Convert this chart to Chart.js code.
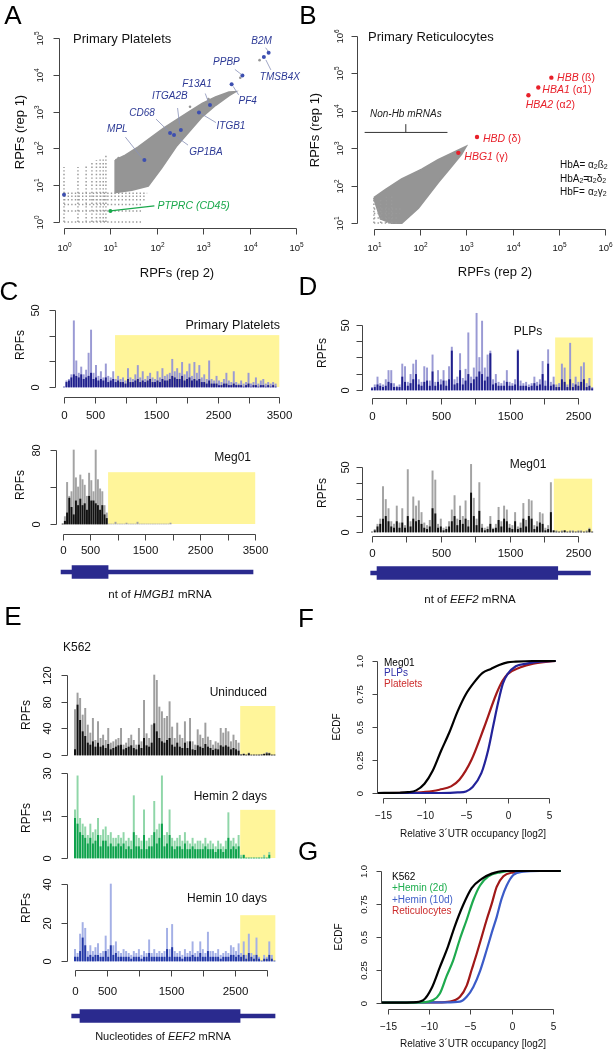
<!DOCTYPE html>
<html>
<head>
<meta charset="utf-8">
<title>Ribosome profiling panels</title>
<script src="https://cdn.jsdelivr.net/npm/chart.js@4.4.1/dist/chart.umd.min.js"></script>
<style>
html, body { margin: 0; background: #fff; }
#page { position: relative; width: 614px; height: 1050px; overflow: hidden; }
#page canvas { position: absolute; left: 0; top: 0; }
</style>
</head>
<body>
<div id="page"></div>
<script>
// ---------------- values ----------------
const BIN = 40; // nt (axis units) per profile bin

// A: primary platelets, RPFs rep 2 (x) vs rep 1 (y)
const plateletCloud = [[12.8,48],[21,65],[40,108],[77,200],[146,360],[270,600],[510,1000],[955,1650],[1850,2480],[3600,3350],[4800,3400],[3600,2750],[1850,1500],[955,740],[510,300],[270,120],[125,29],[65,9.6],[29,7.4],[12.8,6.4]];
const plateletColumns = [[1,31],[2,31],[3,34],[4,44],[5,48],[6,53],[7,57],[8,66]];
const plateletRows = [[1,47],[2,47],[3,50],[4,55],[5,60],[6,62]];
const plateletStray = [[16400,25000],[6300,8300],[15,55],[33,78],[520,1350],[1300,2200]];
const plateletGenes = ['B2M','TMSB4X','PPBP','PF4','F13A1','ITGB1','ITGA2B','CD68','GP1BA','MPL',''];
const plateletGeneRep2 = [25700,20300,7000,4100,1400,810,330,193,235,54,1];
const plateletGeneRep1 = [39800,30600,9600,5500,1500,940,316,260,230,48,5.5];
const ptprc = [10, 2];

// B: primary reticulocytes
const reticCloud = [[10,47],[18,78],[40,150],[109,270],[245,490],[550,790],[970,1100],[780,690],[470,320],[245,122],[91,25],[40,10],[24,10],[14,13]];
const reticColumns = [[10,46],[14,46],[18.6,50],[24.3,55]];
const reticRows = [[10,33],[13.6,33],[17.9,36],[23.7,40]];
const hbGenes = ['HBB','HBA1','HBA2','HBD','HBG1'];
const hbChains = [' (ß)',' (α1)',' (α2)',' (δ)',' (γ)'];
const hbRep2 = [69000,36000,22000,1700,670];
const hbRep1 = [77000,42000,26000,2000,750];
const nonHbSpan = [6.3, 390];
const nonHbTick = [49, 2640, 4400];

// C: HMGB1 profiles (bins of 40 nt)
const hmgb1PlateletLight = [0,4,5,8,43,17,9,13,8,11,22,37,9,14,7,10,6,15,7,6,10,5,7,5,6,4,12,6,5,8,14,6,10,5,7,9,6,5,10,6,12,7,8,9,18,10,12,9,16,8,10,15,7,16,9,14,6,8,5,17,5,4,7,4,3,5,9,4,3,10,3,2,4,2,3,9,2,3,6,2,4,5,2,3,2,3,2];
const hmgb1PlateletDark = [0,3,4,6,8,7,6,8,5,6,7,9,5,6,4,5,4,6,3,4,5,3,4,3,3,2,5,3,3,4,5,3,4,3,4,5,3,3,4,3,5,4,4,5,7,6,5,5,7,4,5,6,4,5,4,5,3,3,2,4,2,2,2,1,1,2,2,1,1,2,1,1,1,0,1,2,0,1,1,0,1,1,0,1,0,1,0];
const hmgb1MegLight = [0,8,45,30,35,80,50,40,53,48,42,30,55,47,35,80,48,38,35,20,12,0,0,0,2,0,0,0,0,1,0,0,0,0,2,0,0,0,0,0,0,0,0,0,0,0,0,0,0,1];
const hmgb1MegDark = [0,3,12,28,18,10,25,20,27,20,22,15,30,25,25,22,20,15,20,10,6];
const hmgb1Mrna = [-30, 3460];
const hmgb1Cds = [170, 825];
const hmgb1UtrPlatelet = [830, 3500, 33.7];
const hmgb1UtrMeg = [825, 3500, 56];

// D: EEF2 profiles, in the units of the drawn axis
const eef2PlpLight = [2,4,10,5,4,8,15,15,5,3,4,20,18,6,12,20,23,8,6,18,17,7,27,6,15,8,15,7,18,33,8,10,28,9,16,44,10,17,59,25,53,17,27,30,8,12,6,5,7,15,6,5,8,31,7,5,6,4,5,10,6,8,22,7,31,6,10,4,5,20,17,4,36,5,10,6,18,21,5,9,2];
const eef2PlpDark = [1,2,4,3,2,3,6,5,2,2,2,10,6,3,5,8,12,4,3,6,7,3,14,3,6,4,7,3,8,30,4,5,15,4,7,12,5,8,10,14,12,7,10,28,4,5,3,3,3,6,3,3,4,30,3,3,3,2,3,5,3,4,12,3,20,3,4,2,2,8,6,2,8,2,4,3,6,8,2,3,1];
const eef2MegLight = [0,2,6,10,35,25,18,8,6,20,7,18,5,48,8,27,20,24,15,7,5,9,47,40,6,10,3,4,8,17,28,10,20,12,24,9,52,26,10,38,6,3,4,12,3,6,19,8,20,17,6,5,15,4,7,22,9,25,24,5,8,15,14,3,5,38,1,1,0,1,1,0,1,1,0,1,1,0,1,3,0];
const eef2MegDark = [0,1,4,6,10,12,8,4,3,8,3,7,3,12,4,10,8,9,6,3,2,4,18,14,3,4,1,2,4,8,12,5,9,6,10,4,30,12,5,16,3,1,2,6,2,3,9,4,10,8,3,2,8,2,3,10,4,12,10,2,4,7,6,1,2,15,1,0,0,0,1,0,0,0,0,0,0,0,0,2,0];
const eef2MrnaD = [-19, 3175];
const eef2CdsD = [73, 2700];
const eef2UtrPlp = [2662, 3209, 40.4];
const eef2UtrMeg = [2643, 3200, 41];

// E: K562 EEF2 profiles
const k562Light = [68,93,85,60,70,45,33,55,22,50,25,30,22,40,18,20,23,25,40,15,18,25,30,22,15,40,20,82,32,25,45,120,112,72,65,55,58,80,42,25,48,30,25,50,20,55,20,15,38,30,25,48,27,22,15,20,18,40,33,40,35,20,30,22,18,1,2,0,3,0,0,0,0,1,2,4,3,0,0];
const k562Dark = [8,75,52,35,28,18,15,20,12,18,12,14,10,16,8,10,12,14,15,8,10,12,14,10,8,15,10,25,14,12,18,47,35,25,20,18,22,25,15,12,18,12,10,18,10,20,8,7,14,12,10,16,12,10,7,9,8,14,12,14,12,8,10,8,6,0,1,0,2,0,0,0,0,0,1,2,2,0,0];
const hemin2Light = [17,29,14,12,11,8,12,9,10,14,8,10,11,8,9,7,7,8,7,9,6,7,6,22,8,7,6,17,6,7,8,20,10,12,29,8,9,17,7,6,7,8,6,9,6,5,7,5,6,6,5,7,5,6,5,4,6,5,4,6,16,6,7,5,8,1,1,0,0,0,0,0,0,0,1,0,2];
const hemin2Dark = [14,12,9,8,7,5,7,5,6,8,4,6,6,4,5,4,4,5,4,5,3,4,3,9,4,4,3,8,3,4,4,9,5,7,12,4,5,8,4,3,4,4,3,5,3,3,4,3,3,3,3,4,3,3,3,2,3,3,2,3,7,3,4,3,4,0,1,0,0,0,0,0,0,0,0,0,1];
const hemin10Light = [6,4,14,20,17,5,8,5,7,9,4,5,13,6,40,8,10,5,4,6,5,4,3,5,4,6,3,5,4,11,4,6,4,5,4,5,17,6,19,5,4,5,3,6,4,5,10,4,5,10,6,4,15,5,5,4,6,3,4,5,4,8,7,5,9,4,10,3,14,4,3,12,2,0,3,2,10,3,0];
const hemin10Dark = [2,2,5,12,8,2,3,2,3,3,2,2,5,2,8,3,4,2,2,2,2,2,1,2,2,2,1,2,2,4,2,2,2,2,2,2,6,2,7,2,2,2,1,2,2,2,3,2,2,4,2,2,5,2,2,2,2,1,2,2,2,3,3,2,3,2,3,1,4,2,1,3,1,0,1,1,3,1,0];
const eef2MrnaE = [-52, 3130];
const eef2CdsE = [78, 2583];
const eef2UtrK562 = [2585, 3135];
const utrTopsK562 = [73.5, 17, 23.8];

// F, G: ECDF of relative 3'UTR occupancy [log2]
const ecdfMeg01 = [[-15.7,0],[-13,0.002],[-12,0.006],[-11,0.02],[-10,0.07],[-9,0.17],[-8,0.32],[-7,0.46],[-6,0.62],[-5,0.75],[-4,0.84],[-3,0.91],[-2,0.94],[-1,0.97],[0,0.99],[1,0.995],[3,1],[5.8,1]];
const ecdfPlp = [[-15.7,0],[-8,0],[-6,0.004],[-5,0.012],[-4.2,0.045],[-3.15,0.15],[-2.35,0.32],[-1.75,0.5],[-1.15,0.68],[-0.55,0.83],[0,0.9],[1,0.96],[2.3,0.98],[3.9,0.995],[5.8,1]];
const ecdfPlatelets = [[-15.7,0],[-12,0.001],[-11,0.003],[-9,0.015],[-8.2,0.025],[-6.8,0.05],[-5.8,0.1],[-4.35,0.25],[-2.8,0.5],[-1.35,0.75],[-0.6,0.85],[0,0.9],[1.5,0.95],[3.1,0.98],[5.8,1]];
const ecdfK562 = [[-15.8,0],[-12,0.003],[-10.7,0.02],[-9.7,0.11],[-8.7,0.27],[-7.7,0.43],[-6.9,0.58],[-5.9,0.74],[-4.86,0.87],[-3.65,0.94],[-2.44,0.98],[-1.03,1],[5.9,1]];
const ecdfHemin2 = [[-15.8,0],[-11,0.003],[-9.5,0.02],[-8.7,0.07],[-7.9,0.2],[-7.1,0.32],[-6.3,0.48],[-5.46,0.63],[-4.66,0.78],[-3.85,0.89],[-2.85,0.96],[-1.4,0.99],[0.2,1],[5.9,1]];
const ecdfHemin10 = [[-15.8,0],[-8,0.002],[-6.27,0.008],[-5.46,0.045],[-4.66,0.12],[-3.85,0.24],[-3.05,0.4],[-2.44,0.53],[-1.84,0.65],[-1.24,0.79],[-0.63,0.89],[0.17,0.97],[1.38,0.995],[3.4,1],[5.9,1]];
const ecdfRetic = [[-15.8,0],[-9,0.002],[-7.5,0.008],[-6.27,0.045],[-5.46,0.13],[-4.86,0.25],[-4.26,0.37],[-3.65,0.5],[-3.05,0.63],[-2.44,0.75],[-1.84,0.88],[-1.03,0.96],[0.17,0.99],[1.8,1],[5.9,1]];

// tick values and labels
const logTicksA = [1,10,100,1000,10000,100000];
const logTicksB = [10,100,1000,10000,100000,1000000];
const ntTicksC = [0,500,1000,1500,2000,2500,3000,3500];
const ntLabelsC = ['0','500','','1500','','2500','','3500'];
const ntTicksD = [0,500,1000,1500,2000,2500,3000];
const ntLabelsD = ['0','','500','','1500','','2500'];
const ntLabelsE = ['0','500','','1500','','2500',''];
const ecdfXTicks = [-15,-10,-5,0,5];
const ecdfXLabels = ['\u221215','\u221210','\u22125','0','5'];
const ecdfYTicks = [0,0.25,0.5,0.75,1];
const ecdfYLabels = ['0','0.25','0.5','0.75','1.0'];

// ---------------- drawing ----------------
const W = 614, H = 1050;
const SANS = '"Liberation Sans", Arial, Helvetica, sans-serif';
const GREY = '#959595';
const NAVY = '#2a2a8e';
const YELLOW = '#fff59a';
const TICK = 6;

function drawText(ctx, o) {
  const size = o.size || 12;
  const parts = (o.parts || [o.text]).map(p => typeof p === 'string' ? {t: p} : p);
  ctx.save();
  ctx.translate(o.x, o.y);
  if (o.rot) ctx.rotate(o.rot);
  ctx.textBaseline = 'middle';
  ctx.textAlign = 'left';
  const fonts = parts.map(p => (p.st || o.st || 'normal') + ' ' + (p.sz || size) + 'px ' + SANS);
  const widths = parts.map((p, i) => { ctx.font = fonts[i]; return ctx.measureText(p.t).width; });
  const total = widths.reduce((a, b) => a + b, 0);
  let cx = o.align === 'left' ? 0 : o.align === 'right' ? -total : -total / 2;
  parts.forEach((p, i) => {
    ctx.font = fonts[i];
    ctx.fillStyle = p.c || o.color || '#111';
    ctx.fillText(p.t, cx, p.dy || 0);
    cx += widths[i];
  });
  ctx.restore();
}

const sup = e => [{t: '10'}, {t: String(e), sz: 6.5, dy: -3.5}];
const sub = s => ({t: s, sz: 7, dy: 2.5});

function drawAxes(chart, axes) {
  const ctx = chart.ctx, a = chart.chartArea;
  ['x', 'y'].forEach(k => {
    const ax = axes[k];
    if (!ax) return;
    const s = chart.scales[k];
    const px = ax.ticks.map(v => Math.round(s.getPixelForValue(v)) + 0.5);
    const len = ax.len || TICK;
    ctx.save();
    ctx.strokeStyle = '#444';
    ctx.lineWidth = 1;
    ctx.beginPath();
    if (k === 'x') {
      const y0 = Math.round(a.bottom + ax.gap) + 0.5;
      ctx.moveTo(px[0], y0); ctx.lineTo(px[px.length - 1], y0);
      px.forEach(p => { ctx.moveTo(p, y0); ctx.lineTo(p, y0 + len); });
      ctx.stroke();
      ax.labels.forEach((l, i) => {
        if (l && l.length) drawText(ctx, {x: px[i], y: y0 + ax.lab, parts: Array.isArray(l) ? l : [l], size: ax.size});
      });
    } else {
      const x0 = Math.round(a.left - ax.gap) + 0.5;
      ctx.moveTo(x0, px[0]); ctx.lineTo(x0, px[px.length - 1]);
      px.forEach(p => { ctx.moveTo(x0, p); ctx.lineTo(x0 - len, p); });
      ctx.stroke();
      ax.labels.forEach((l, i) => {
        if (l && l.length) drawText(ctx, {x: x0 - ax.lab, y: px[i], parts: Array.isArray(l) ? l : [l], size: ax.size, rot: -Math.PI / 2});
      });
    }
    ctx.restore();
  });
}

function drawBoxes(chart, boxes) {
  const {ctx, scales: {x, y}} = chart;
  boxes.forEach(b => {
    const x0 = x.getPixelForValue(b[0]), x1 = x.getPixelForValue(b[1]);
    const y0 = y.getPixelForValue(0), y1 = y.getPixelForValue(b[2]);
    ctx.fillStyle = YELLOW;
    ctx.fillRect(x0, y1, x1 - x0, y0 - y1);
  });
}

function drawMarks(chart, marks) {
  const {ctx, scales: {x, y}} = chart;
  marks.forEach(m => {
    const px = x.getPixelForValue(m.x), py = y.getPixelForValue(m.y);
    if (m.line) {
      ctx.save();
      ctx.strokeStyle = m.lineColor || '#8890b8';
      ctx.lineWidth = m.lineWidth || 0.8;
      ctx.beginPath();
      ctx.moveTo(px + m.line[0], py + m.line[1]);
      ctx.lineTo(px + m.line[2], py + m.line[3]);
      ctx.stroke();
      ctx.restore();
    }
    if (m.parts) drawText(ctx, {x: px + m.dx, y: py + m.dy, parts: m.parts, size: m.size || 10, align: m.align || 'center', color: m.color});
  });
}

function lin(min, max) { return {type: 'linear', min, max, display: false, bounds: 'data', offset: false}; }
function logs(min, max) { return {type: 'logarithmic', min, max, display: false, bounds: 'data'}; }

function makeChart(area, config, deco) {
  const cv = document.createElement('canvas');
  cv.width = W; cv.height = H;
  document.getElementById('page').appendChild(cv);
  config.options = Object.assign({
    responsive: false, animation: false, events: [], devicePixelRatio: 1,
    layout: {padding: {left: area[0], top: area[1], right: W - area[2], bottom: H - area[3]}}
  }, config.options || {});
  config.options.plugins = {legend: {display: false}, tooltip: {enabled: false}};
  config.plugins = [{
    id: 'deco',
    beforeDatasetsDraw(chart) { if (deco.boxes) drawBoxes(chart, deco.boxes); },
    afterDraw(chart) {
      if (deco.axes) drawAxes(chart, deco.axes);
      if (deco.marks) drawMarks(chart, deco.marks);
      (deco.texts || []).forEach(t => drawText(chart.ctx, t));
    }
  }];
  return new Chart(cv, config);
}

const xy = a => a.map(([x, y]) => ({x, y}));
function stripeData(cols, rows, base) {
  const out = [];
  cols.forEach(([x, top]) => out.push({x, y: base}, {x, y: top}, {x, y: null}));
  rows.forEach(([y, right]) => out.push({x: base, y}, {x: right, y}, {x: right, y: null}));
  return out;
}
function cloudSet(poly) {
  return {data: xy(poly.concat([poly[0]])), showLine: true, fill: 'shape', tension: 0,
    backgroundColor: GREY, borderColor: GREY, borderWidth: 2, pointRadius: 0};
}
function stripeSet(data) {
  return {data, showLine: true, borderColor: '#9a9a9a', borderWidth: 1.5, borderDash: [1.4, 2.2], pointRadius: 0, spanGaps: false};
}
function pointSet(data, color, r) {
  return {data, pointRadius: r, pointBackgroundColor: color, pointBorderWidth: 0, showLine: false};
}

function profile(area, xr, yr, light, dark, colors, box, axes, texts) {
  const pts = a => a.map((v, i) => ({x: i * BIN, y: v}));
  return makeChart(area, {
    type: 'bar',
    data: {datasets: [
      {data: pts(dark), backgroundColor: colors[1], barThickness: 1.3, grouped: false},
      {data: pts(light), backgroundColor: colors[0], barThickness: 1.3, grouped: false}
    ]},
    options: {scales: {x: lin(xr[0], xr[1]), y: lin(yr[0], yr[1])}}
  }, {boxes: [box], axes, texts});
}

function geneModel(area, xr, mrna, cds, texts) {
  return makeChart(area, {
    type: 'bar',
    data: {labels: ['mRNA'], datasets: [
      {data: [cds], backgroundColor: NAVY, barThickness: 13, grouped: false},
      {data: [mrna], backgroundColor: NAVY, barThickness: 4, grouped: false}
    ]},
    options: {indexAxis: 'y', scales: {x: lin(xr[0], xr[1]), y: {type: 'category', display: false}}}
  }, {texts});
}

function ecdf(area, xr, yr, curves, colors, texts) {
  return makeChart(area, {
    type: 'scatter',
    data: {datasets: curves.map((c, i) => ({
      data: xy(c), showLine: true, borderColor: colors[i], borderWidth: 2.2,
      pointRadius: 0, cubicInterpolationMode: 'monotone', fill: false
    }))},
    options: {scales: {x: lin(xr[0], xr[1]), y: lin(yr[0], yr[1])}}
  }, {
    axes: {
      x: {ticks: ecdfXTicks, labels: ecdfXLabels, gap: 0, lab: 18, size: 10, len: 5},
      y: {ticks: ecdfYTicks, labels: ecdfYLabels, gap: 0, lab: 17, size: 9.5, len: 5}
    },
    texts
  });
}

const ROT = -Math.PI / 2;
const letter = (s, x, y) => ({x, y, text: s, size: 26, color: '#000'});

// ---- panel A ----
const aLabelPos = [[-7,-11,-3,-5,-0.5,-1.5],[16,20,2,3,7,13],[-16,-13,-7.5,-6,-1,-1],[16,17,1.5,2,7,10.5],[-13,-21,-4.7,-11.6,-1.3,-2.3],[32,14,2,1,17,10],[-11,-34,-3.3,-22,-1.3,-5.7],[-28,-20,-14,-14,-2,-2.3],[32,17,3,2,14,10],[-27,-31,-19,-23,-2.6,-2.3],null];
const aMarks = plateletGenes.map((g, i) => {
  const p = aLabelPos[i];
  if (!p) return {x: plateletGeneRep2[i], y: plateletGeneRep1[i]};
  return {x: plateletGeneRep2[i], y: plateletGeneRep1[i], parts: [{t: g, st: 'italic'}], dx: p[0], dy: p[1],
    line: p.slice(2), color: '#2d3a96', size: 10};
});
aMarks.push({x: ptprc[0], y: ptprc[1], parts: [{t: 'PTPRC (CD45)', st: 'italic'}], dx: 47, dy: -5, align: 'left',
  line: [0, 0, 44, -5], lineColor: '#1aa84c', lineWidth: 1.2, color: '#1aa84c', size: 10.5});

makeChart([61, 32, 300, 226], {
  type: 'scatter',
  data: {datasets: [
    pointSet(xy(plateletGeneRep2.map((v, i) => [v, plateletGeneRep1[i]])), '#3d4fb0', 2),
    pointSet(xy([ptprc]), '#1aa84c', 2),
    pointSet(xy(plateletStray), GREY, 1.3),
    stripeSet(stripeData(plateletColumns, plateletRows, 1)),
    cloudSet(plateletCloud)
  ]},
  options: {scales: {x: logs(0.8617, 121950), y: logs(0.778, 145500)}}
}, {
  axes: {
    x: {ticks: logTicksA, labels: logTicksA.map((v, i) => sup(i)), gap: 2, lab: 20, size: 9.5},
    y: {ticks: logTicksA, labels: logTicksA.map((v, i) => sup(i)), gap: 2, lab: 19, size: 9.5}
  },
  marks: aMarks,
  texts: [
    letter('A', 13, 17), letter('B', 308, 17), letter('C', 9, 293), letter('D', 308, 288),
    letter('E', 13, 618), letter('F', 306, 620), letter('G', 308, 853),
    {x: 73, y: 39, text: 'Primary Platelets', size: 13, align: 'left'},
    {x: 177, y: 273, text: 'RPFs (rep 2)', size: 13},
    {x: 20, y: 132, text: 'RPFs (rep 1)', size: 13, rot: ROT}
  ]
});

// ---- panel B ----
const bLabelPos = [[5.7,0,'left'],[4,3,'left'],[-2.7,10,'left'],[6,1.7,'left'],[6,4,'left']];
const bMarks = hbGenes.map((g, i) => ({x: hbRep2[i], y: hbRep1[i],
  parts: [{t: g, st: 'italic'}, {t: hbChains[i]}], dx: bLabelPos[i][0], dy: bLabelPos[i][1], align: 'left', color: '#e8202a', size: 10.5}));
bMarks.push({x: nonHbTick[0], y: nonHbTick[2], parts: [{t: 'Non-Hb mRNAs', st: 'italic'}], dx: 0, dy: -9.5, color: '#222', size: 10});

makeChart([359, 30, 612, 227], {
  type: 'scatter',
  data: {datasets: [
    pointSet(xy(hbRep2.map((v, i) => [v, hbRep1[i]])), '#e8202a', 2.2),
    {data: [{x: nonHbSpan[0], y: nonHbTick[1]}, {x: nonHbSpan[1], y: nonHbTick[1]}, {x: nonHbSpan[1], y: null},
      {x: nonHbTick[0], y: nonHbTick[1]}, {x: nonHbTick[0], y: nonHbTick[2]}],
      showLine: true, borderColor: '#333', borderWidth: 1, pointRadius: 0},
    stripeSet(stripeData(reticColumns, reticRows, 10)),
    cloudSet(reticCloud)
  ]},
  options: {scales: {x: logs(4.76, 1.28e6), y: logs(7.82, 1.446e6)}}
}, {
  axes: {
    x: {ticks: logTicksB, labels: logTicksB.map((v, i) => sup(i + 1)), gap: 2, lab: 19, size: 9.5},
    y: {ticks: logTicksB, labels: logTicksB.map((v, i) => sup(i + 1)), gap: 2, lab: 17, size: 9.5}
  },
  marks: bMarks,
  texts: [
    {x: 368, y: 37, text: 'Primary Reticulocytes', size: 13, align: 'left'},
    {x: 495, y: 272, text: 'RPFs (rep 2)', size: 13},
    {x: 315, y: 130, text: 'RPFs (rep 1)', size: 13, rot: ROT},
    {x: 560, y: 165, text: 'HbA=', size: 10, align: 'left'},
    {x: 588, y: 165, parts: ['α', sub('2'), 'ß', sub('2')], size: 10, align: 'left'},
    {x: 560, y: 179, parts: ['HbA', sub('2'), '='], size: 10, align: 'left'},
    {x: 587, y: 179, parts: ['α', sub('2'), 'δ', sub('2')], size: 10, align: 'left'},
    {x: 560, y: 192, text: 'HbF=', size: 10, align: 'left'},
    {x: 588, y: 192, parts: ['α', sub('2'), 'γ', sub('2')], size: 10, align: 'left'}
  ]
});

// ---- panel C ----
const blueShades = ['#9a9ad4', '#1f1f8c'];
const greyShades = ['#a3a3a3', '#111111'];
profile([56, 305, 285, 389], [-130, 3593], [-1.3, 53.25], hmgb1PlateletLight, hmgb1PlateletDark, blueShades, hmgb1UtrPlatelet, {
  x: {ticks: ntTicksC, labels: ntLabelsC, gap: 8, lab: 18, size: 11.5},
  y: {ticks: [0, 50 / 3, 100 / 3, 50], labels: ['0', '', '', '50'], gap: 1, lab: 20, size: 11}
}, [
  {x: 280, y: 326, text: 'Primary Platelets', size: 12.5, align: 'right'},
  {x: 21, y: 345, text: 'RPFs', size: 12, rot: ROT}
]);
profile([58, 445, 260, 526], [-85.5, 3587], [-2.16, 85.4], hmgb1MegLight, hmgb1MegDark, greyShades, hmgb1UtrMeg, {
  x: {ticks: ntTicksC, labels: ntLabelsC, gap: 8, lab: 16, size: 11.5},
  y: {ticks: [0, 40, 80], labels: ['0', '', '80'], gap: 2, lab: 20, size: 11}
}, [
  {x: 251, y: 458, text: 'Meg01', size: 12, align: 'right'},
  {x: 21, y: 485, text: 'RPFs', size: 12, rot: ROT}
]);
geneModel([58, 560, 260, 584], [-85.5, 3587], hmgb1Mrna, hmgb1Cds, [
  {x: 160, y: 595, parts: ['nt of ', {t: 'HMGB1', st: 'italic'}, ' mRNA'], size: 11.5}
]);

// ---- panel D ----
profile([364, 306, 600, 392], [-116.3, 3314], [-1.54, 64.6], eef2PlpLight, eef2PlpDark, blueShades, eef2UtrPlp, {
  x: {ticks: ntTicksD, labels: ntLabelsD, gap: 6, lab: 18, size: 11.5},
  y: {ticks: [0, 12.5, 25, 37.5, 50], labels: ['0', '', '', '', '50'], gap: 2, lab: 17, size: 11}
}, [
  {x: 528, y: 332, text: 'PLPs', size: 12},
  {x: 323, y: 353, text: 'RPFs', size: 12, rot: ROT}
]);
profile([364, 455, 600, 534], [-116.3, 3314], [-1.54, 59.2], eef2MegLight, eef2MegDark, greyShades, eef2UtrMeg, {
  x: {ticks: ntTicksD, labels: ntLabelsD, gap: 2, lab: 17, size: 11.5},
  y: {ticks: [0, 12.5, 25, 37.5, 50], labels: ['0', '', '', '', '50'], gap: 2, lab: 17, size: 11}
}, [
  {x: 528, y: 465, text: 'Meg01', size: 12},
  {x: 323, y: 493, text: 'RPFs', size: 12, rot: ROT}
]);
geneModel([364, 565, 600, 581], [-116.3, 3314], eef2MrnaD, eef2CdsD, [
  {x: 470, y: 600, parts: ['nt of ', {t: 'EEF2', st: 'italic'}, ' mRNA'], size: 11.5}
]);

// ---- panel E ----
const xE = [-93.9, 3286];
profile([69, 670, 285, 757], xE, [-3, 127.5], k562Light, k562Dark, ['#9e9e9e', '#111111'], [eef2UtrK562[0], eef2UtrK562[1], utrTopsK562[0]], {
  y: {ticks: [0, 40, 80, 120], labels: ['0', '40', '80', '120'], gap: 2, lab: 20, size: 11}
}, [
  {x: 63, y: 648, text: 'K562', size: 12, align: 'left'},
  {x: 267, y: 693, text: 'Uninduced', size: 12, align: 'right'},
  {x: 27, y: 715, text: 'RPFs', size: 12, rot: ROT}
]);
profile([69, 770, 285, 860], xE, [-0.706, 31.06], hemin2Light, hemin2Dark, ['#8fd6a8', '#0ea24c'], [eef2UtrK562[0], eef2UtrK562[1], utrTopsK562[1]], {
  y: {ticks: [0, 15, 30], labels: ['0', '15', '30'], gap: 2, lab: 20, size: 11}
}, [
  {x: 267, y: 797, text: 'Hemin 2 days', size: 12, align: 'right'},
  {x: 27, y: 818, text: 'RPFs', size: 12, rot: ROT}
]);
profile([69, 880, 285, 963], xE, [-1.04, 42.08], hemin10Light, hemin10Dark, ['#a4b0e6', '#2338a6'], [eef2UtrK562[0], eef2UtrK562[1], utrTopsK562[2]], {
  x: {ticks: ntTicksD, labels: ntLabelsE, gap: 7, lab: 21, size: 11.5},
  y: {ticks: [0, 20, 40], labels: ['0', '20', '40'], gap: 2, lab: 20, size: 11}
}, [
  {x: 267, y: 899, text: 'Hemin 10 days', size: 12, align: 'right'},
  {x: 27, y: 908, text: 'RPFs', size: 12, rot: ROT}
]);
geneModel([69, 1008, 285, 1024], xE, eef2MrnaE, eef2CdsE, [
  {x: 163, y: 1037, parts: ['Nucleotides of ', {t: 'EEF2', st: 'italic'}, ' mRNA'], size: 11}
]);

// ---- panel F ----
ecdf([377, 655, 556, 798], [-15.723, 5.843], [-0.0379, 1.0455],
  [ecdfMeg01, ecdfPlp, ecdfPlatelets], ['#000000', '#23239a', '#a31a1a'], [
  {x: 384, y: 663, text: 'Meg01', size: 10, align: 'left', color: '#000'},
  {x: 384, y: 673, text: 'PLPs', size: 10, align: 'left', color: '#2e2ea8'},
  {x: 384, y: 684, text: 'Platelets', size: 10, align: 'left', color: '#cc2c2c'},
  {x: 337, y: 727, text: 'ECDF', size: 10, rot: ROT},
  {x: 473, y: 834, text: 'Relative 3\u00b4UTR occupancy [log2]', size: 10}
]);

// ---- panel G ----
ecdf([381, 865, 561, 1009], [-15.809, 5.93], [-0.0478, 1.0456],
  [ecdfK562, ecdfHemin2, ecdfHemin10, ecdfRetic], ['#000000', '#1eaa4e', '#3b5bc8', '#a01818'], [
  {x: 392, y: 877, text: 'K562', size: 10, align: 'left', color: '#000'},
  {x: 392, y: 888, text: '+Hemin (2d)', size: 10, align: 'left', color: '#1fae4f'},
  {x: 392, y: 900, text: '+Hemin (10d)', size: 10, align: 'left', color: '#3f5fc8'},
  {x: 392, y: 911, text: 'Reticulocytes', size: 10, align: 'left', color: '#cc2c2c'},
  {x: 339, y: 937, text: 'ECDF', size: 10, rot: ROT},
  {x: 473, y: 1044, text: 'Relative 3\u00b4UTR occupancy [log2]', size: 10}
]);
</script>
</body>
</html>
